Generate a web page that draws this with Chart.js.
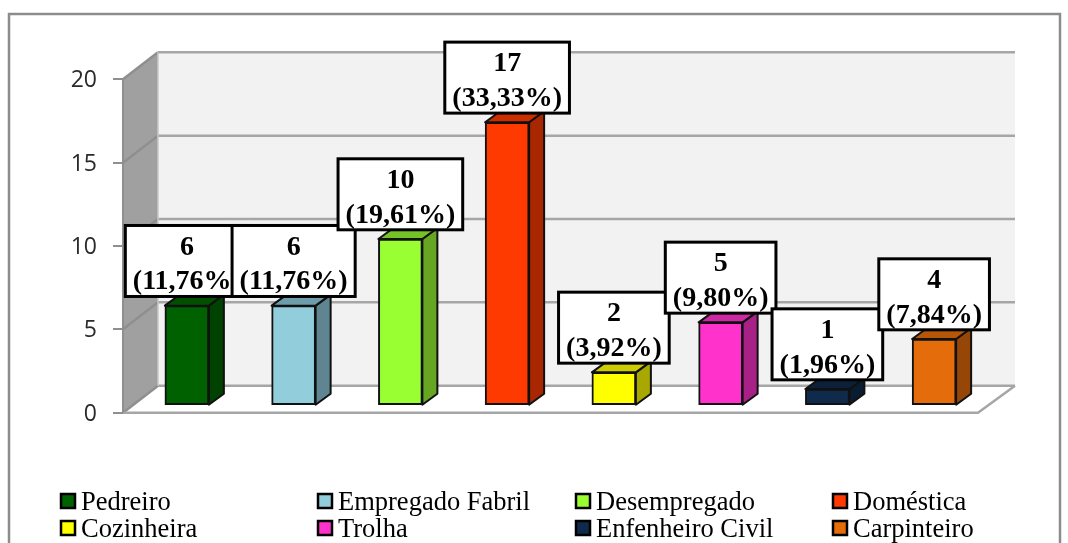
<!DOCTYPE html>
<html><head><meta charset="utf-8">
<style>html,body{margin:0;padding:0;background:#fff;overflow:hidden}canvas{display:block}</style>
<script src="https://cdn.jsdelivr.net/npm/chart.js@4"></script>
</head><body><canvas id="c" width="1068" height="543"></canvas>
<script>
const categories = ["Pedreiro","Empregado Fabril","Desempregado","Doméstica","Cozinheira","Trolha","Enfenheiro Civil","Carpinteiro"];
const values = [6,6,10,17,2,5,1,4];
const percents = ["(11,76%)","(11,76%)","(19,61%)","(33,33%)","(3,92%)","(9,80%)","(1,96%)","(7,84%)"];
const frontColors = ["#006100","#92cddc","#99ff33","#ff3a00","#ffff00","#ff33cc","#0f2a4a","#e46c0a"];
const sideColors = ["#004200","#5f8593","#66a622","#a82600","#a8a800","#a82187","#0a1c31","#964707"];
const topColors = ["#005000","#6d9cab","#74c225","#cc2e00","#cccc00","#cc29a3","#0c2139","#b55608"];

const WALL = {dx:35, dy:-27};
const BAR = {dx:15, dy:-11, ox:10.5, oy:-7};

function poly(ctx, pts, fill, stroke, lw){
  ctx.beginPath();
  pts.forEach((p,i)=> i?ctx.lineTo(p[0],p[1]):ctx.moveTo(p[0],p[1]));
  ctx.closePath();
  if(fill){ctx.fillStyle=fill;ctx.fill();}
  if(stroke){ctx.strokeStyle=stroke;ctx.lineWidth=lw;ctx.stroke();}
}

const scene = {
  id:'scene',
  beforeDraw(chart){
    const ctx=chart.ctx, a=chart.chartArea, y=chart.scales.y;
    ctx.save();
    ctx.fillStyle='#fff';ctx.fillRect(0,0,chart.width,chart.height);
    ctx.strokeStyle='#8c8c8c';ctx.lineWidth=2.5;ctx.strokeRect(9,14,1051,620);
    const L=a.left,R=a.right,T=a.top,B=a.bottom,dx=WALL.dx,dy=WALL.dy;
    poly(ctx,[[L+dx,T+dy],[R+dx+3,T+dy],[R+dx+3,B+dy],[L+dx,B+dy]],'#f2f2f2');
    poly(ctx,[[L,T],[L+dx,T+dy],[L+dx,B+dy],[L,B]],'#a0a0a0');
    poly(ctx,[[L,B],[L+dx,B+dy],[R+dx+3,B+dy],[R+1,B]],'#ffffff');
    ctx.lineWidth=2.5;
    y.ticks.forEach(t=>{
      const py=y.getPixelForValue(t.value);
      ctx.strokeStyle='#8f8f8f';
      ctx.beginPath();ctx.moveTo(L,py);ctx.lineTo(L+dx,py+dy);ctx.stroke();
      ctx.strokeStyle='#a6a6a6';
      ctx.beginPath();ctx.moveTo(L+dx,py+dy);ctx.lineTo(R+dx+3,py+dy);
      if(t.value===0)ctx.moveTo(R+dx+3,py+dy),ctx.lineTo(R+1,py),ctx.lineTo(L,py);
      ctx.stroke();
    });
    ctx.strokeStyle='#8f8f8f';ctx.lineWidth=2;
    ctx.beginPath();ctx.moveTo(L,T);ctx.lineTo(L,B);ctx.stroke();
    ctx.strokeStyle='#c8c8c8';ctx.lineWidth=1.5;
    ctx.beginPath();ctx.moveTo(L+dx,T+dy);ctx.lineTo(L+dx,B+dy);ctx.stroke();
    ctx.restore();
  },
  beforeDatasetsDraw(chart){
    const ctx=chart.ctx, meta=chart.getDatasetMeta(0);
    meta.data.forEach((b,i)=>{
      const x=b.x+BAR.ox, w=b.width/2, t=b.y+BAR.oy, g=b.base+BAR.oy, dx=BAR.dx, dy=BAR.dy;
      ctx.save();ctx.lineJoin='round';
      poly(ctx,[[x+w,t],[x+w+dx,t+dy],[x+w+dx,g+dy],[x+w,g]],sideColors[i],'#111',2);
      poly(ctx,[[x-w,t],[x-w+dx,t+dy],[x+w+dx,t+dy],[x+w,t]],topColors[i],'#111',2);
      ctx.restore();
    });
    ctx.save();
    ctx.translate(BAR.ox,BAR.oy);
  },
  afterDatasetsDraw(chart){
    const ctx=chart.ctx;
    ctx.restore();
    const meta=chart.getDatasetMeta(0);
    ctx.save();
    ctx.textAlign='center';ctx.textBaseline='middle';
    ctx.font='bold 28px "Liberation Serif"';
    meta.data.forEach((b,i)=>{
      const w=ctx.measureText(percents[i]).width+15, h=71;
      const cx=b.x+BAR.ox, bot=b.y+BAR.oy-9.2;
      ctx.fillStyle='#fff';ctx.strokeStyle='#000';ctx.lineWidth=3;
      ctx.fillRect(cx-w/2,bot-h,w,h);ctx.strokeRect(cx-w/2,bot-h,w,h);
      ctx.fillStyle='#000';
      ctx.fillText(String(values[i]),cx,bot-h+22);
      ctx.fillText(percents[i],cx,bot-h+56.5);
    });
    const cols=[61,318,576,833], rows=[494,521];
    ctx.textAlign='left';ctx.textBaseline='alphabetic';
    ctx.font='26.5px "Liberation Serif"';
    categories.forEach((c,i)=>{
      const x=cols[i%4], y=rows[Math.floor(i/4)];
      ctx.fillStyle=frontColors[i];ctx.strokeStyle='#000';ctx.lineWidth=2.5;
      ctx.fillRect(x,y,14,14);ctx.strokeRect(x,y,14,14);
      ctx.fillStyle='#000';
      ctx.fillText(c,x+20,y+15.5);
    });
    ctx.restore();
  }
};

new Chart(document.getElementById('c'),{
  type:'bar',
  data:{labels:categories,datasets:[{
    data:values,backgroundColor:frontColors,borderColor:'#111',borderWidth:2,
    borderSkipped:false,barThickness:44
  }]},
  options:{
    responsive:false,animation:false,
    layout:{padding:{left:0,top:79.3,right:91,bottom:130.3}},
    plugins:{legend:{display:false},tooltip:{enabled:false}},
    scales:{
      x:{display:false,grid:{display:false}},
      y:{min:0,max:20,afterFit(s){s.width=123;},
        border:{display:false},
        grid:{drawOnChartArea:false,drawTicks:true,tickLength:10,color:'#8f8f8f',lineWidth:2},
        ticks:{stepSize:5,padding:16,labelOffset:1.5,color:'#2a2a2a',font:{family:'"Open Sans"',size:23}}
      }
    }
  },
  plugins:[scene]
});
</script></body></html>
